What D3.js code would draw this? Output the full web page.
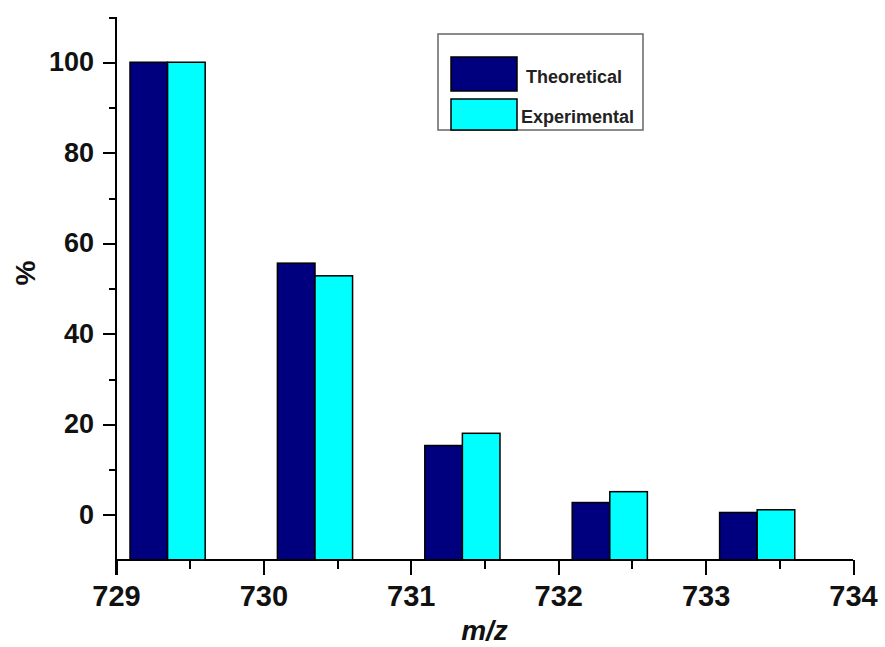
<!DOCTYPE html>
<html>
<head>
<meta charset="utf-8">
<script src="https://cdn.jsdelivr.net/npm/d3@7/dist/d3.min.js"></script>
<style>
  html, body { margin: 0; padding: 0; background: #fff; }
  svg { display: block; }
  text { font-family: "Liberation Sans", Arial, sans-serif; }
</style>
</head>
<body>
<svg id="chart" width="885" height="647"></svg>
<script>
// Isotope pattern: m/z peak positions and relative intensities (%)
const peakMz = [729.35, 730.35, 731.35, 732.35, 733.35];
const theoretical = [100, 55.6, 15.3, 2.7, 0.5];
const experimental = [100, 52.8, 18.0, 5.1, 1.1];
const seriesNames = ["Theoretical", "Experimental"];
const seriesColors = ["#00007f", "#00ffff"];
const xTicks = [729, 730, 731, 732, 733, 734];
const yTicks = [0, 20, 40, 60, 80, 100];
const barWidth = 0.255; // in m/z units

const svg = d3.select("#chart");
const margin = { left: 116, right: 32, top: 17, bottom: 87 };
const W = 885, H = 647;

const x = d3.scaleLinear().domain([729, 734]).range([margin.left, W - margin.right]);
const y = d3.scaleLinear().domain([-10, 110]).range([H - margin.bottom, margin.top]);

// Bars: theoretical on the left half, experimental on the right half of each peak
const rows = peakMz.map((mz, i) => ({ mz, t: theoretical[i], e: experimental[i] }));
const bars = [];
rows.forEach(r => {
  bars.push({ x0: r.mz - barWidth, x1: r.mz, v: r.t, s: 0 });
  bars.push({ x0: r.mz, x1: r.mz + barWidth, v: r.e, s: 1 });
});

svg.append("g").selectAll("rect").data(bars).join("rect")
  .attr("x", d => x(d.x0))
  .attr("width", d => x(d.x1) - x(d.x0))
  .attr("y", d => y(d.v))
  .attr("height", d => y(-10) - y(d.v))
  .attr("fill", d => seriesColors[d.s])
  .attr("stroke", "#000")
  .attr("stroke-width", 1.5);

// Y axis
const yAxis = svg.append("g").attr("transform", `translate(${margin.left},0)`);
yAxis.call(d3.axisLeft(y).tickValues(yTicks).tickSize(13).tickPadding(9).tickFormat(d3.format("d")));
yAxis.append("g").call(d3.axisLeft(y).tickValues([10, 30, 50, 70, 90, 110]).tickSize(7).tickFormat(""))
  .select(".domain").remove();

// X axis
const xAxis = svg.append("g").attr("transform", `translate(0,${y(-10)})`);
xAxis.call(d3.axisBottom(x).tickValues(xTicks).tickSize(15).tickPadding(10).tickFormat(d3.format("d")));
xAxis.append("g").call(d3.axisBottom(x).tickValues([729.5, 730.5, 731.5, 732.5, 733.5]).tickSize(9).tickFormat(""))
  .select(".domain").remove();

svg.selectAll(".domain").attr("stroke", "#000").attr("stroke-width", 2);
svg.selectAll(".tick line").attr("stroke", "#000").attr("stroke-width", 2)
  .attr("shape-rendering", "crispEdges");
svg.selectAll(".tick text")
  .attr("font-weight", "bold").attr("fill", "#111")
  .style("font-family", "'Liberation Sans', Arial, sans-serif");
yAxis.selectAll(".tick text").attr("font-size", 27);
xAxis.selectAll(".tick text").attr("font-size", 29);
// Extend the y-axis line down to the bottom of the first x tick
yAxis.select(".domain").attr("d", `M0,${y(110)}V${y(-10) + 15}`);
xAxis.select(".domain").attr("d", `M${x(729)},0H${x(734)}`);

// Axis titles
svg.append("text")
  .attr("x", (x(729) + x(734)) / 2)
  .attr("y", 640)
  .attr("text-anchor", "middle")
  .attr("font-size", 28).attr("font-weight", "bold").attr("font-style", "italic")
  .attr("fill", "#111")
  .text("m/z");

svg.append("text")
  .attr("transform", `translate(35,273) rotate(-90)`)
  .attr("text-anchor", "middle")
  .attr("font-size", 28).attr("font-weight", "bold")
  .attr("fill", "#111")
  .text("%");

// Legend
const legend = svg.append("g");
legend.append("rect")
  .attr("x", 438).attr("y", 34).attr("width", 205).attr("height", 96)
  .attr("fill", "#fff").attr("stroke", "#666").attr("stroke-width", 1.5);
seriesNames.forEach((name, i) => {
  legend.append("rect")
    .attr("x", 451).attr("y", 57 + i * 42).attr("width", 66).attr("height", i === 0 ? 34 : 31)
    .attr("fill", seriesColors[i]).attr("stroke", "#000").attr("stroke-width", 1.5);
  legend.append("text")
    .attr("x", i === 0 ? 526 : 521).attr("y", 83 + i * 40)
    .attr("font-size", 18).attr("font-weight", "bold").attr("fill", "#222")
    .text(name);
});
</script>
</body>
</html>
